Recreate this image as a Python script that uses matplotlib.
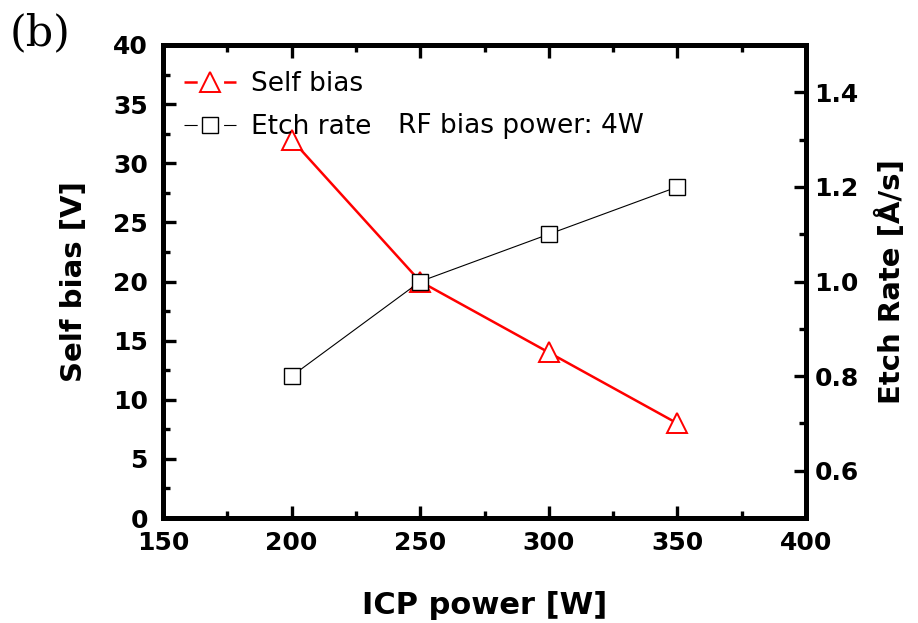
import matplotlib
matplotlib.use("Agg")
import matplotlib.pyplot as plt
from matplotlib.lines import Line2D
from matplotlib.ticker import MultipleLocator

plt.rcParams['font.family'] = ['DejaVu Sans']
plt.rcParams['lines.scale_dashes'] = False

# ICP power sweep at fixed RF bias power
icp_power = [200, 250, 300, 350]
self_bias = [32, 20, 14, 8]
etch_rate = [0.8, 1.0, 1.1, 1.2]

fig = plt.figure(figsize=(9.18, 6.23), dpi=100)
ax = fig.add_axes([0.1776, 0.1685, 0.7004, 0.7593])
ax2 = ax.twinx()

ax.plot(icp_power, self_bias, color='red', lw=1.8, marker='^', ms=14,
        mfc='white', mec='red', mew=1.4, zorder=3)
ax2.plot(icp_power, etch_rate, color='black', lw=0.8, marker='s', ms=11,
         mfc='white', mec='black', mew=1.0, zorder=3)

ax.set_xlim(150, 400)
ax.set_ylim(0, 40)
ax2.set_ylim(0.5, 1.5)
ax.xaxis.set_major_locator(MultipleLocator(50))
ax.xaxis.set_minor_locator(MultipleLocator(25))
ax.yaxis.set_major_locator(MultipleLocator(5))
ax.yaxis.set_minor_locator(MultipleLocator(2.5))
ax2.yaxis.set_minor_locator(MultipleLocator(0.1))
ax2.set_yticks([0.6, 0.8, 1.0, 1.2, 1.4])
ax2.set_yticklabels(['0.6', '0.8', '1.0', '1.2', '1.4'])

for a in (ax, ax2):
    for s in a.spines.values():
        s.set_linewidth(3.6)
    a.tick_params(which='major', length=9)
    a.tick_params(which='minor', length=5)
ax.tick_params(which='both', direction='in', top=True, width=2.4, labelsize=18)
ax.tick_params(axis='x', pad=9)
ax.tick_params(axis='y', pad=11)
for lab in ax.get_xticklabels() + ax.get_yticklabels():
    lab.set_fontweight('bold')
ax2.tick_params(which='both', direction='in', width=2.4, labelsize=18, pad=6)
for lab in ax2.get_yticklabels():
    lab.set_fontweight('bold')

ax.set_xlabel('ICP power [W]', fontsize=22, fontweight='bold', labelpad=26)
ax.set_ylabel('Self bias [V]', fontsize=21, fontweight='bold', labelpad=18)
ax2.set_ylabel('Etch Rate [Å/s]', fontsize=21, fontweight='bold', labelpad=12)

# legend handles: short dash, marker, short dash
dash = (0, (9.5, 19, 9.5, 30))
h1 = Line2D([], [], color='red', lw=1.8, ls=dash, marker='^', ms=14,
            mfc='white', mec='red', mew=1.4)
h2 = Line2D([], [], color='black', lw=0.8, ls=dash, marker='s', ms=11,
            mfc='white', mec='black', mew=1.0)
ax.legend([h1, h2], ['Self bias', 'Etch rate'], loc='upper left',
          bbox_to_anchor=(0.032, 0.944), frameon=False, fontsize=19,
          handlelength=2.0, handletextpad=0.55, borderaxespad=0, borderpad=0,
          labelspacing=0.63)
ax.text(0.3655, 0.829, 'RF bias power: 4W', transform=ax.transAxes,
        fontsize=19, va='center', ha='left')

fig.text(0.01, 0.947, '(b)', fontsize=31, family='DejaVu Serif',
         va='center', ha='left')

fig.savefig('out.png', dpi=100)
